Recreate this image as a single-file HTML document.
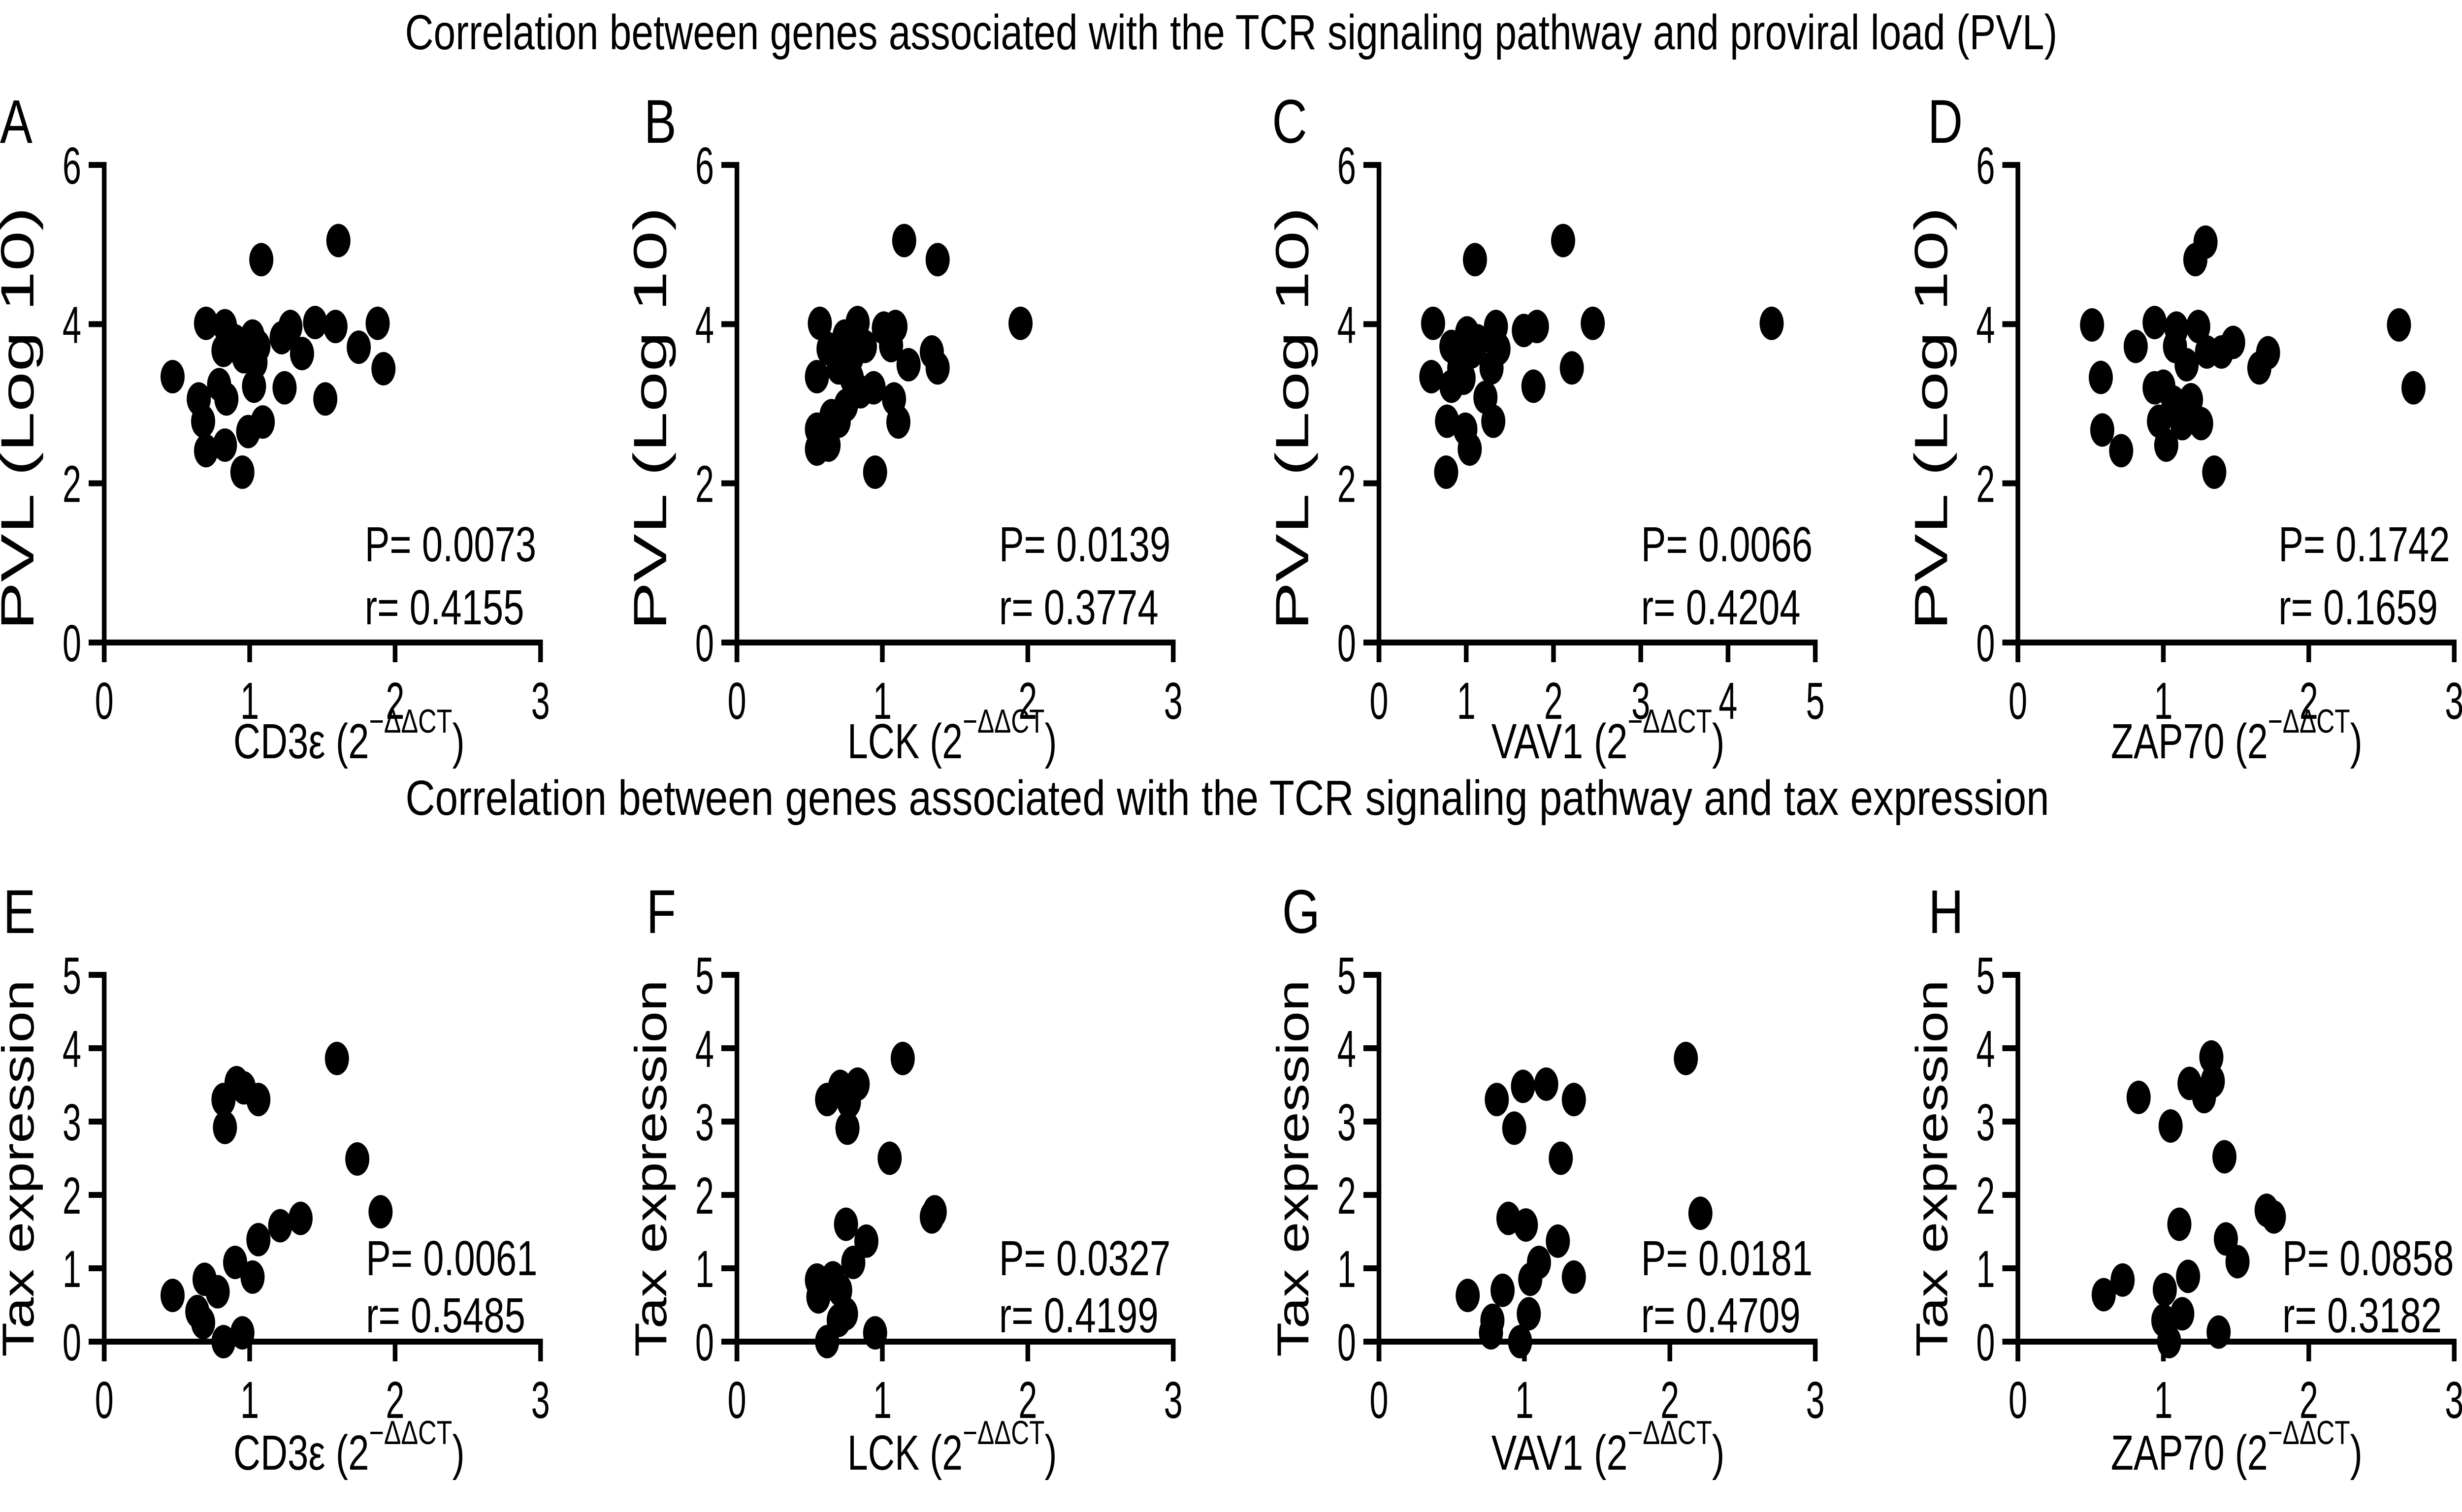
<!DOCTYPE html>
<html>
<head>
<meta charset="utf-8">
<style>
  html, body { margin: 0; padding: 0; background: #fff; overflow: hidden; width: 100%; height: 100%; }
  svg { display: block; width: 100vw; height: 100vh; }
  text { font-family: "Liberation Sans", Arial, sans-serif; fill: #000; }
</style>
</head>
<body>
<svg id="fig" xmlns="http://www.w3.org/2000/svg" viewBox="0 0 6331 3071" preserveAspectRatio="none">
  <rect x="0" y="0" width="6331" height="3071" fill="#fff"/>
  <text x="3166" y="100" font-size="100" text-anchor="middle" textLength="4249" lengthAdjust="spacingAndGlyphs">Correlation between genes associated with the TCR signaling pathway and proviral load (PVL)</text>
  <text x="3156" y="1655" font-size="100" text-anchor="middle" textLength="4227" lengthAdjust="spacingAndGlyphs">Correlation between genes associated with the TCR signaling pathway and tax expression</text>
  <g id="plots"></g>
</svg>
<script>
// ---- data ----
const xA = [0.47,0.70,0.83,0.90,0.82,0.96,1.02,1.08,1.06,1.04,1.03,0.65,0.79,0.84,0.68,0.70,0.83,0.95,0.99,1.09,1.22,1.28,1.36,1.24,1.45,1.59,1.61,1.75,1.88,1.92,1.52];
const yA = [3.34,4.01,3.98,3.79,3.67,3.59,3.85,4.81,3.72,3.52,3.22,3.06,3.24,3.06,2.78,2.41,2.48,2.14,2.65,2.77,3.83,3.97,3.63,3.20,4.02,3.97,5.05,3.71,4.01,3.44,3.06];
const xB = [0.57,0.55,0.63,0.74,0.83,0.88,1.01,1.09,1.06,1.18,1.34,1.38,1.15,1.38,1.95,0.70,0.79,0.85,0.94,1.08,1.11,0.95,0.70,0.65,0.55,0.55,0.63,0.75,0.79];
const yB = [4.01,3.34,3.69,3.85,4.02,3.72,3.95,3.97,3.73,3.49,3.65,3.45,5.05,4.81,4.01,3.45,3.32,3.15,3.20,3.06,2.77,2.14,2.78,2.85,2.68,2.43,2.48,2.98,3.59];
const xC = [0.62,0.60,0.83,1.01,1.13,1.10,1.34,1.37,1.29,0.83,0.97,1.22,0.78,0.99,1.04,1.31,0.77,1.66,1.81,1.77,2.11,2.21,2.45,4.50,0.92,1.06];
const yC = [4.01,3.34,3.72,3.89,3.79,4.81,3.97,3.69,3.45,3.22,3.32,3.08,2.78,2.68,2.43,2.78,2.14,3.92,3.97,3.22,5.05,3.45,4.01,4.01,3.45,3.65];
const xD = [0.51,0.57,0.58,0.71,0.81,0.94,1.09,1.24,1.08,1.16,1.30,1.40,1.48,1.22,1.29,0.94,1.00,1.07,1.19,0.97,1.13,1.26,1.02,1.35,1.66,1.72,2.62,2.72];
const yD = [3.99,3.33,2.67,2.41,3.72,4.02,3.95,3.97,3.72,3.49,3.65,3.65,3.77,4.81,5.03,3.20,3.22,3.02,3.05,2.78,2.75,2.75,2.48,2.14,3.45,3.64,3.99,3.20];
const xE = [0.47,0.64,0.68,0.69,0.78,0.82,0.95,0.90,1.02,1.06,1.21,1.35,0.82,0.83,0.91,0.96,1.06,1.60,1.74,1.90];
const yE = [0.63,0.41,0.26,0.85,0.68,0.00,0.12,1.08,0.88,1.39,1.58,1.68,3.30,2.92,3.53,3.46,3.30,3.86,2.49,1.77];
const xF = [0.55,0.56,0.66,0.71,0.70,0.75,0.62,0.95,0.75,0.89,0.80,0.62,0.71,0.77,0.83,0.76,1.05,1.14,1.34,1.36];
const yF = [0.84,0.61,0.87,0.70,0.29,0.38,0.00,0.12,1.60,1.37,1.08,3.30,3.48,3.27,3.51,2.91,2.50,3.86,1.70,1.77];
const xG = [0.61,0.78,0.77,0.85,0.97,1.03,1.04,1.10,1.34,1.23,0.89,1.01,0.81,0.93,0.99,1.15,1.34,1.25,2.11,2.21];
const yG = [0.63,0.29,0.12,0.70,0.00,0.38,0.85,1.08,0.88,1.37,1.68,1.59,3.30,2.91,3.48,3.51,3.30,2.50,3.86,1.75];
const xH = [0.59,0.72,1.01,1.00,1.04,1.13,1.17,1.11,1.38,1.43,1.51,0.83,1.05,1.18,1.28,1.34,1.33,1.42,1.71,1.76];
const yH = [0.64,0.84,0.71,0.29,0.00,0.38,0.89,1.60,0.13,1.40,1.09,3.33,2.94,3.52,3.34,3.55,3.88,2.52,1.79,1.70];
const yTicksTop = ["0","2","4","6"];
const yTicksBottom = ["0","1","2","3","4","5"];
const xTicks3 = ["0","1","2","3"];
const xTicks5 = ["0","1","2","3","4","5"];
const pValues = ["0.0073","0.0139","0.0066","0.1742","0.0061","0.0327","0.0181","0.0858"];
const rValues = ["0.4155","0.3774","0.4204","0.1659","0.5485","0.4199","0.4709","0.3182"];
const genes = ["CD3\u03B5","LCK","VAV1","ZAP70"];
const letters = ["A","B","C","D","E","F","G","H"];

// ---- layout (not data) ----
const NS = "http://www.w3.org/2000/svg";
const root = document.getElementById("plots");
const axisX = [268, 1895, 3546, 5189];
const axisW = 1122;
const rowCfg = [
  {y0:1305, yTop:335, yMax:6, yTicks:yTicksTop, title:"PVL (Log 10)", titleLen:860, titleMid:850, titleSize:120, letterY:290, prY:[1140,1268], xlabY:1540},
  {y0:2725, yTop:1980, yMax:5, yTicks:yTicksBottom, title:"Tax expression", titleLen:766, titleMid:2373, titleSize:115, letterY:1895, prY:[2590,2706], xlabY:2985}
];
const letterX = [0,1656,3271,4957, 8,1662,3297,4959];
const prX = [938,2569,4220,5859, 941,2569,4220,5869];
const xlabX = [600,2179,3835,5428, 600,2179,3835,5428];
const xlabW = [595,539,600,647, 595,539,600,647];
const seriesX = [xA,xB,xC,xD,xE,xF,xG,xH];
const seriesY = [yA,yB,yC,yD,yE,yF,yG,yH];

function mk(tag, attrs, parent) {
  const el = document.createElementNS(NS, tag);
  for (const k in attrs) el.setAttribute(k, attrs[k]);
  parent.appendChild(el);
  return el;
}

for (let p = 0; p < 8; p++) {
  const row = rowCfg[p < 4 ? 0 : 1];
  const col = p % 4;
  const ax = axisX[col];
  const xTicks = (p === 2) ? xTicks5 : xTicks3;
  const xMax = xTicks.length - 1;
  const sx = v => ax + v / xMax * axisW;
  const sy = v => row.y0 - v / row.yMax * (row.y0 - row.yTop);

  const g = mk("g", {}, root);
  
  

  const lt = mk("text", {x: letterX[p], y: row.letterY, "font-size": 125}, g);
  lt.textContent = letters[p];
  
  

  const ya = mk("line", {x1: ax, y1: row.y0 + 40, x2: ax, y2: row.yTop - 6, stroke: "#000", "stroke-width": 12}, g);
  
  
  const xa = mk("line", {x1: ax - 40, y1: row.y0, x2: sx(xMax) + 6, y2: row.y0, stroke: "#000", "stroke-width": 12}, g);
  
  

  row.yTicks.forEach(function (lab) {
    const v = parseFloat(lab);
    const ty = sy(v);
    const tk = mk("line", {x1: ax - 40, y1: ty, x2: ax, y2: ty, stroke: "#000", "stroke-width": 12}, g);
    
    
    const tl = mk("text", {transform: "translate(" + (ax - 59) + "," + (ty + 38) + ") scale(0.82,1)", "font-size": 106, "text-anchor": "end"}, g);
    tl.textContent = lab;
    
    
  });
  xTicks.forEach(function (lab) {
    const v = parseFloat(lab);
    const tx = sx(v);
    const tk = mk("line", {x1: tx, y1: row.y0, x2: tx, y2: row.y0 + 40, stroke: "#000", "stroke-width": 12}, g);
    
    
    const tl = mk("text", {transform: "translate(" + tx + "," + (row.y0 + 155) + ") scale(0.82,1)", "font-size": 106, "text-anchor": "middle"}, g);
    tl.textContent = lab;
    
    
  });

  const yt = mk("text", {transform: "translate(" + (ax - 182) + "," + row.titleMid + ") rotate(-90)", "font-size": row.titleSize, "text-anchor": "middle", textLength: row.titleLen, lengthAdjust: "spacingAndGlyphs"}, g);
  yt.textContent = row.title;
  
  

  const xt = mk("text", {x: xlabX[p], y: row.xlabY, "font-size": 100, textLength: xlabW[p], lengthAdjust: "spacingAndGlyphs"}, g);
  
  
  const t1 = mk("tspan", {}, xt);
  t1.textContent = genes[col] + " (2";
  const t2 = mk("tspan", {dy: -52, "font-size": 68}, xt);
  t2.textContent = "\u2212\u0394\u0394CT";
  const t3 = mk("tspan", {dy: 52}, xt);
  t3.textContent = ")";

  const pt = mk("text", {x: prX[p], y: row.prY[0], "font-size": 100, textLength: 441, lengthAdjust: "spacingAndGlyphs"}, g);
  pt.textContent = "P= " + pValues[p];
  
  
  const rt = mk("text", {x: prX[p], y: row.prY[1], "font-size": 100, textLength: 410, lengthAdjust: "spacingAndGlyphs"}, g);
  rt.textContent = "r= " + rValues[p];
  
  

  const xs = seriesX[p], ys = seriesY[p];
  for (let i = 0; i < xs.length; i++) {
    const c = mk("ellipse", {cx: sx(xs[i]), cy: sy(ys[i]), rx: 31, ry: 34, fill: "#000"}, g);
    
    
  }
}
</script>
</body>
</html>
